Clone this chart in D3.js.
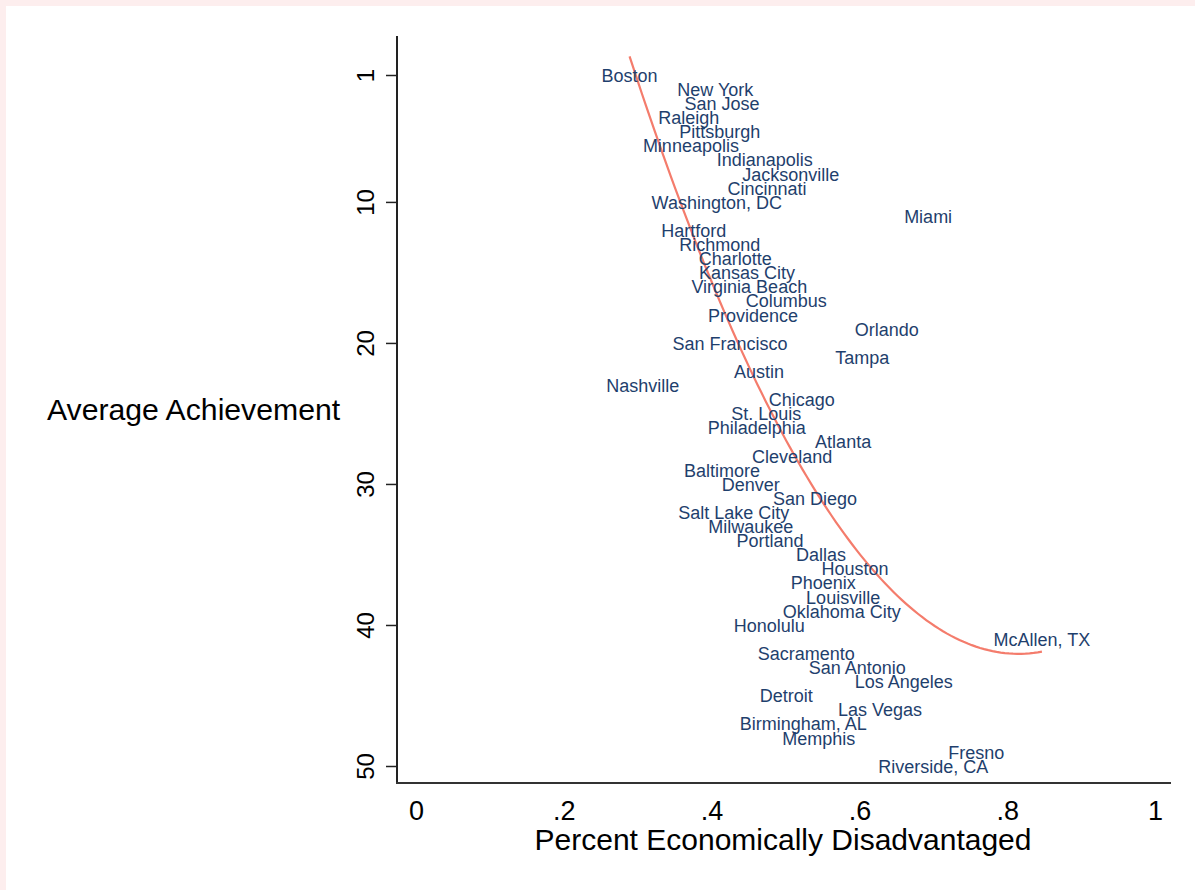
<!DOCTYPE html>
<html>
<head>
<meta charset="utf-8">
<script src="https://cdn.jsdelivr.net/npm/d3@7"></script>
<style>
  body { margin: 0; background: #fdeeee; }
  svg { display: block; }
  text { font-family: "Liberation Sans", Arial, sans-serif; }
</style>
</head>
<body>
<svg id="chart" width="1195" height="890"></svg>
<script>
const cities = ["Boston","New York","San Jose","Raleigh","Pittsburgh","Minneapolis","Indianapolis","Jacksonville","Cincinnati","Washington, DC",
  "Miami","Hartford","Richmond","Charlotte","Kansas City","Virginia Beach","Columbus","Providence","Orlando","San Francisco",
  "Tampa","Austin","Nashville","Chicago","St. Louis","Philadelphia","Atlanta","Cleveland","Baltimore","Denver",
  "San Diego","Salt Lake City","Milwaukee","Portland","Dallas","Houston","Phoenix","Louisville","Oklahoma City","Honolulu",
  "McAllen, TX","Sacramento","San Antonio","Los Angeles","Detroit","Las Vegas","Birmingham, AL","Memphis","Fresno","Riverside, CA"];

const pctDisadv = [0.289,0.405,0.414,0.369,0.411,0.372,0.472,0.507,0.475,0.407,
  0.693,0.376,0.411,0.432,0.448,0.451,0.501,0.456,0.637,0.425,
  0.604,0.464,0.307,0.522,0.474,0.461,0.578,0.509,0.414,0.453,
  0.540,0.430,0.453,0.479,0.548,0.594,0.551,0.578,0.576,0.478,
  0.847,0.528,0.597,0.660,0.501,0.628,0.524,0.545,0.758,0.700];

const avgRank = [1,2,3,4,5,6,7,8,9,10,
  11,12,13,14,15,16,17,18,19,20,
  21,22,23,24,25,26,27,28,29,30,
  31,32,33,34,35,36,37,38,39,40,
  41,42,43,44,45,46,47,48,49,50];

const xTicks = [0, 0.2, 0.4, 0.6, 0.8, 1];
const xTickLabels = ["0", ".2", ".4", ".6", ".8", "1"];
const yTicks = [1, 10, 20, 30, 40, 50];

const svg = d3.select("#chart");

svg.append("rect")
  .attr("x", 6).attr("y", 6)
  .attr("width", 1189).attr("height", 884)
  .attr("fill", "#ffffff");

const x = d3.scaleLinear().domain([0, 1]).range([416, 1155]);
const y = d3.scaleLinear().domain([1, 50]).range([75, 766]);

const axisLeft = 397, axisTop = 36, axisBottom = 783, axisRight = 1171;

// y axis
const yAxis = svg.append("g")
  .attr("transform", `translate(${axisLeft},0)`)
  .call(d3.axisLeft(y).tickValues(yTicks).tickSize(11).tickSizeOuter(0).tickFormat(d3.format("d")));
yAxis.select(".domain").remove();
yAxis.selectAll(".tick line").attr("stroke", "#222").attr("stroke-width", 1.5);
yAxis.selectAll(".tick text")
  .attr("font-size", 24)
  .attr("fill", "#000")
  .attr("x", 0)
  .attr("y", 0)
  .attr("dy", 0)
  .attr("transform", "translate(-23,0) rotate(-90)")
  .attr("text-anchor", "middle");

svg.append("line")
  .attr("x1", axisLeft).attr("x2", axisLeft)
  .attr("y1", axisTop).attr("y2", axisBottom)
  .attr("stroke", "#222").attr("stroke-width", 2);

// x axis
const xAxis = svg.append("g")
  .attr("transform", `translate(0,${axisBottom})`)
  .call(d3.axisBottom(x).tickValues(xTicks).tickSize(0).tickFormat((d, i) => xTickLabels[i]));
xAxis.select(".domain").remove();
xAxis.selectAll(".tick text")
  .attr("font-size", 27)
  .attr("fill", "#000")
  .attr("y", 37)
  .attr("dy", 0);

svg.append("line")
  .attr("x1", axisLeft - 1).attr("x2", axisRight)
  .attr("y1", axisBottom).attr("y2", axisBottom)
  .attr("stroke", "#333").attr("stroke-width", 2);

// quadratic fit
const n = cities.length;
let s = [0, 0, 0, 0, 0], t = [0, 0, 0];
for (let i = 0; i < n; i++) {
  const xi = pctDisadv[i], yi = avgRank[i];
  for (let k = 0; k < 5; k++) s[k] += Math.pow(xi, k);
  for (let k = 0; k < 3; k++) t[k] += yi * Math.pow(xi, k);
}
function solve3(A, b) {
  const M = A.map((r, i) => r.concat([b[i]]));
  for (let c = 0; c < 3; c++) {
    let p = c;
    for (let r = c + 1; r < 3; r++) if (Math.abs(M[r][c]) > Math.abs(M[p][c])) p = r;
    [M[c], M[p]] = [M[p], M[c]];
    for (let r = 0; r < 3; r++) {
      if (r === c) continue;
      const f = M[r][c] / M[c][c];
      for (let k = c; k < 4; k++) M[r][k] -= f * M[c][k];
    }
  }
  return M.map((r, i) => r[3] / r[i]);
}
const coef = solve3([[s[0], s[1], s[2]], [s[1], s[2], s[3]], [s[2], s[3], s[4]]], t);
const [xmin, xmax] = d3.extent(pctDisadv);
const fitPts = d3.range(0, 101).map(i => {
  const xv = xmin + (xmax - xmin) * i / 100;
  return [xv, coef[0] + coef[1] * xv + coef[2] * xv * xv];
});

svg.append("path")
  .datum(fitPts)
  .attr("fill", "none")
  .attr("stroke", "#f47c6c")
  .attr("stroke-width", 2.2)
  .attr("d", d3.line().x(d => x(d[0])).y(d => y(d[1])));

// city labels
svg.append("g")
  .selectAll("text")
  .data(cities)
  .join("text")
  .attr("x", (d, i) => x(pctDisadv[i]))
  .attr("y", (d, i) => y(avgRank[i]) + 0.5)
  .attr("dy", "0.35em")
  .attr("text-anchor", "middle")
  .attr("font-size", 18)
  .attr("fill", "#1f3f6d")
  .text(d => d);

// axis titles
svg.append("text")
  .attr("x", 47).attr("y", 420)
  .attr("font-size", 30.2)
  .attr("fill", "#000")
  .text("Average Achievement");

svg.append("text")
  .attr("x", 783).attr("y", 850)
  .attr("text-anchor", "middle")
  .attr("font-size", 30)
  .attr("fill", "#000")
  .text("Percent Economically Disadvantaged");
</script>
</body>
</html>
